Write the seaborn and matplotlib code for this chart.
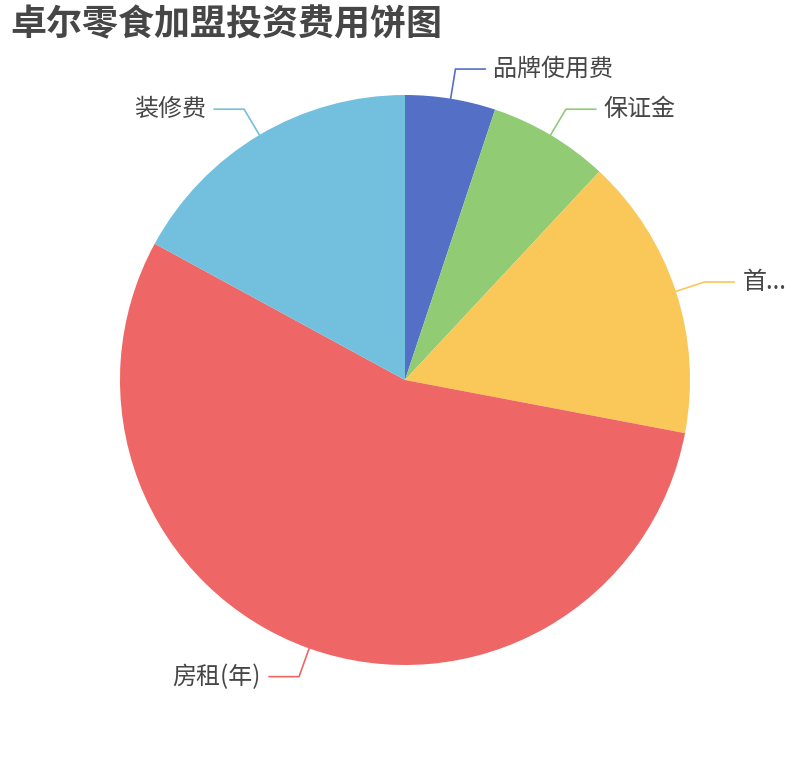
import numpy as np
import matplotlib
matplotlib.use("Agg")
import matplotlib.pyplot as plt
import seaborn as sns

categories = ["品牌使用费", "保证金", "首...", "房租(年)", "装修费"]
values = [1.5, 2.0, 4.7, 16.1, 5.0]
colors = ["#5470c6", "#91cc75", "#fac858", "#ee6666", "#73c0de"]
title = "卓尔零食加盟投资费用饼图"

sns.set_theme(style="white")
plt.rcParams['font.family'] = ['Noto Sans CJK SC', 'DejaVu Sans']

W, H = 810, 760
fig = plt.figure(figsize=(W / 100, H / 100), dpi=100)
ax = fig.add_axes([0, 0, 1, 1])
ax.set_xlim(0, W)
ax.set_ylim(H, 0)
ax.set_aspect('equal')
ax.axis('off')

cx, cy, r = 405, 380, 285
pal = sns.color_palette(colors)
# y axis inverted -> counterclock=True renders clockwise on screen; start at top
wedges, _ = ax.pie(values, colors=pal, center=(cx, cy), radius=r,
                   startangle=-90, counterclock=True,
                   wedgeprops=dict(linewidth=0), frame=True)
ax.set_xlim(0, W)
ax.set_ylim(H, 0)
ax.axis('off')

txtcol = "#464646"
total = sum(values)
cum = 0
for name, v, c in zip(categories, values, colors):
    mid = (cum + v / 2) / total * 2 * np.pi
    cum += v
    sx, sy = np.sin(mid), -np.cos(mid)
    p1 = (cx + r * sx, cy + r * sy)
    p2 = (cx + (r + 30) * sx, cy + (r + 30) * sy)
    d = 1 if sx >= 0 else -1
    p3 = (p2[0] + 30 * d, p2[1])
    ax.plot([p1[0], p2[0], p3[0]], [p1[1], p2[1], p3[1]], color=c, lw=1.2,
            solid_joinstyle='miter')
    ax.text(p3[0] + 8 * d, p3[1], name, ha='left' if d > 0 else 'right',
            va='center', fontsize=17.3, color=txtcol)

fig.text(10 / W, 1 - 25 / H, title, fontsize=25.9, fontweight='bold',
         color=txtcol, ha='left', va='center')

fig.savefig("out.png", dpi=100, facecolor='white')
